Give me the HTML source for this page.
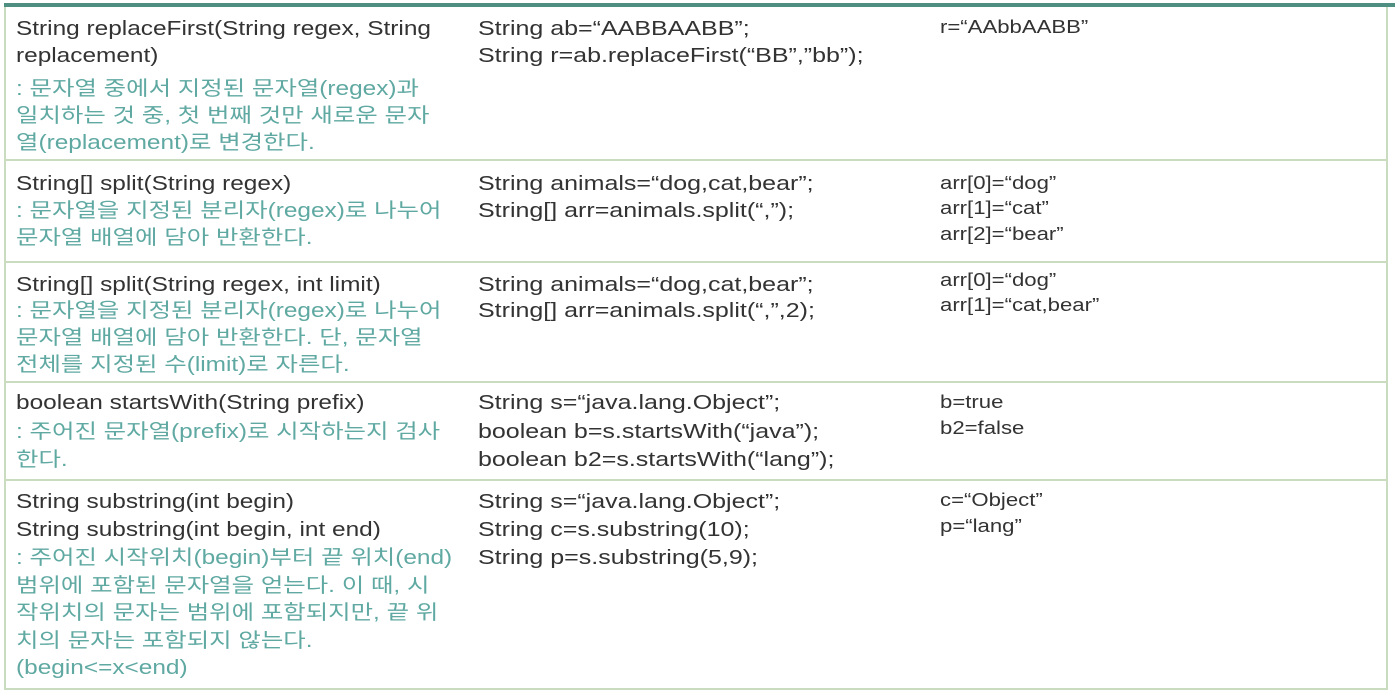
<!DOCTYPE html>
<html><head><meta charset="utf-8"><style>
body{margin:0;width:1395px;height:697px;background:#fff;position:relative;overflow:hidden;font-family:"Liberation Sans","Noto Sans CJK KR",sans-serif;color:#333}
.l{position:absolute;white-space:nowrap;font-size:20px;line-height:24px;transform-origin:0 50%;transform:scaleX(1.22)}
.c2{transform:scaleX(1.25)}
.s{font-size:18px;transform:scaleX(1.23)}
.t{color:#5fa9a2}
.h{position:absolute;left:4px;width:1384px;height:2px;background:#c9dcbf}
</style></head><body>
<div style="position:absolute;left:4px;top:3px;width:1391px;height:4px;background:#4e8f82"></div>
<div style="position:absolute;left:4px;top:7px;width:2px;height:683px;background:#c9dcbf"></div>
<div style="position:absolute;left:1386px;top:7px;width:2px;height:683px;background:#c9dcbf"></div>
<div class="h" style="top:159px"></div>
<div class="h" style="top:261px"></div>
<div class="h" style="top:381px"></div>
<div class="h" style="top:479px"></div>
<div class="h" style="top:688px"></div>

<div class="l" style="left:16px;top:17px">String replaceFirst(String regex, String</div>
<div class="l" style="left:16px;top:44px">replacement)</div>
<div class="l t" style="left:16px;top:77px">: 문자열 중에서 지정된 문자열(regex)과</div>
<div class="l t" style="left:16px;top:104px">일치하는 것 중, 첫 번째 것만 새로운 문자</div>
<div class="l t" style="left:16px;top:131px">열(replacement)로 변경한다.</div>
<div class="l c2" style="left:478px;top:17px">String ab=“AABBAABB”;</div>
<div class="l c2" style="left:478px;top:44px">String r=ab.replaceFirst(“BB”,”bb”);</div>
<div class="l s" style="left:940px;top:15px">r=“AAbbAABB”</div>

<div class="l" style="left:16px;top:172px">String[] split(String regex)</div>
<div class="l t" style="left:16px;top:199px">: 문자열을 지정된 분리자(regex)로 나누어</div>
<div class="l t" style="left:16px;top:226px">문자열 배열에 담아 반환한다.</div>
<div class="l c2" style="left:478px;top:172px">String animals=“dog,cat,bear”;</div>
<div class="l c2" style="left:478px;top:199px">String[] arr=animals.split(“,”);</div>
<div class="l s" style="left:940px;top:171px">arr[0]=“dog”</div>
<div class="l s" style="left:940px;top:196px">arr[1]=“cat”</div>
<div class="l s" style="left:940px;top:222px">arr[2]=“bear”</div>

<div class="l" style="left:16px;top:273px">String[] split(String regex, int limit)</div>
<div class="l t" style="left:16px;top:299px">: 문자열을 지정된 분리자(regex)로 나누어</div>
<div class="l t" style="left:16px;top:326px">문자열 배열에 담아 반환한다. 단, 문자열</div>
<div class="l t" style="left:16px;top:353px">전체를 지정된 수(limit)로 자른다.</div>
<div class="l c2" style="left:478px;top:273px">String animals=“dog,cat,bear”;</div>
<div class="l c2" style="left:478px;top:299px">String[] arr=animals.split(“,”,2);</div>
<div class="l s" style="left:940px;top:268px">arr[0]=“dog”</div>
<div class="l s" style="left:940px;top:293px">arr[1]=“cat,bear”</div>

<div class="l" style="left:16px;top:391px">boolean startsWith(String prefix)</div>
<div class="l t" style="left:16px;top:420px">: 주어진 문자열(prefix)로 시작하는지 검사</div>
<div class="l t" style="left:16px;top:448px">한다.</div>
<div class="l c2" style="left:478px;top:391px">String s=“java.lang.Object”;</div>
<div class="l c2" style="left:478px;top:420px">boolean b=s.startsWith(“java”);</div>
<div class="l c2" style="left:478px;top:448px">boolean b2=s.startsWith(“lang”);</div>
<div class="l s" style="left:940px;top:390px">b=true</div>
<div class="l s" style="left:940px;top:416px">b2=false</div>

<div class="l" style="left:16px;top:490px">String substring(int begin)</div>
<div class="l" style="left:16px;top:518px">String substring(int begin, int end)</div>
<div class="l t" style="left:16px;top:546px">: 주어진 시작위치(begin)부터 끝 위치(end)</div>
<div class="l t" style="left:16px;top:574px">범위에 포함된 문자열을 얻는다. 이 때, 시</div>
<div class="l t" style="left:16px;top:601px">작위치의 문자는 범위에 포함되지만, 끝 위</div>
<div class="l t" style="left:16px;top:629px">치의 문자는 포함되지 않는다.</div>
<div class="l t" style="left:16px;top:656px">(begin&lt;=x&lt;end)</div>
<div class="l c2" style="left:478px;top:490px">String s=“java.lang.Object”;</div>
<div class="l c2" style="left:478px;top:518px">String c=s.substring(10);</div>
<div class="l c2" style="left:478px;top:546px">String p=s.substring(5,9);</div>
<div class="l s" style="left:940px;top:488px">c=“Object”</div>
<div class="l s" style="left:940px;top:514px">p=“lang”</div>
</body></html>
